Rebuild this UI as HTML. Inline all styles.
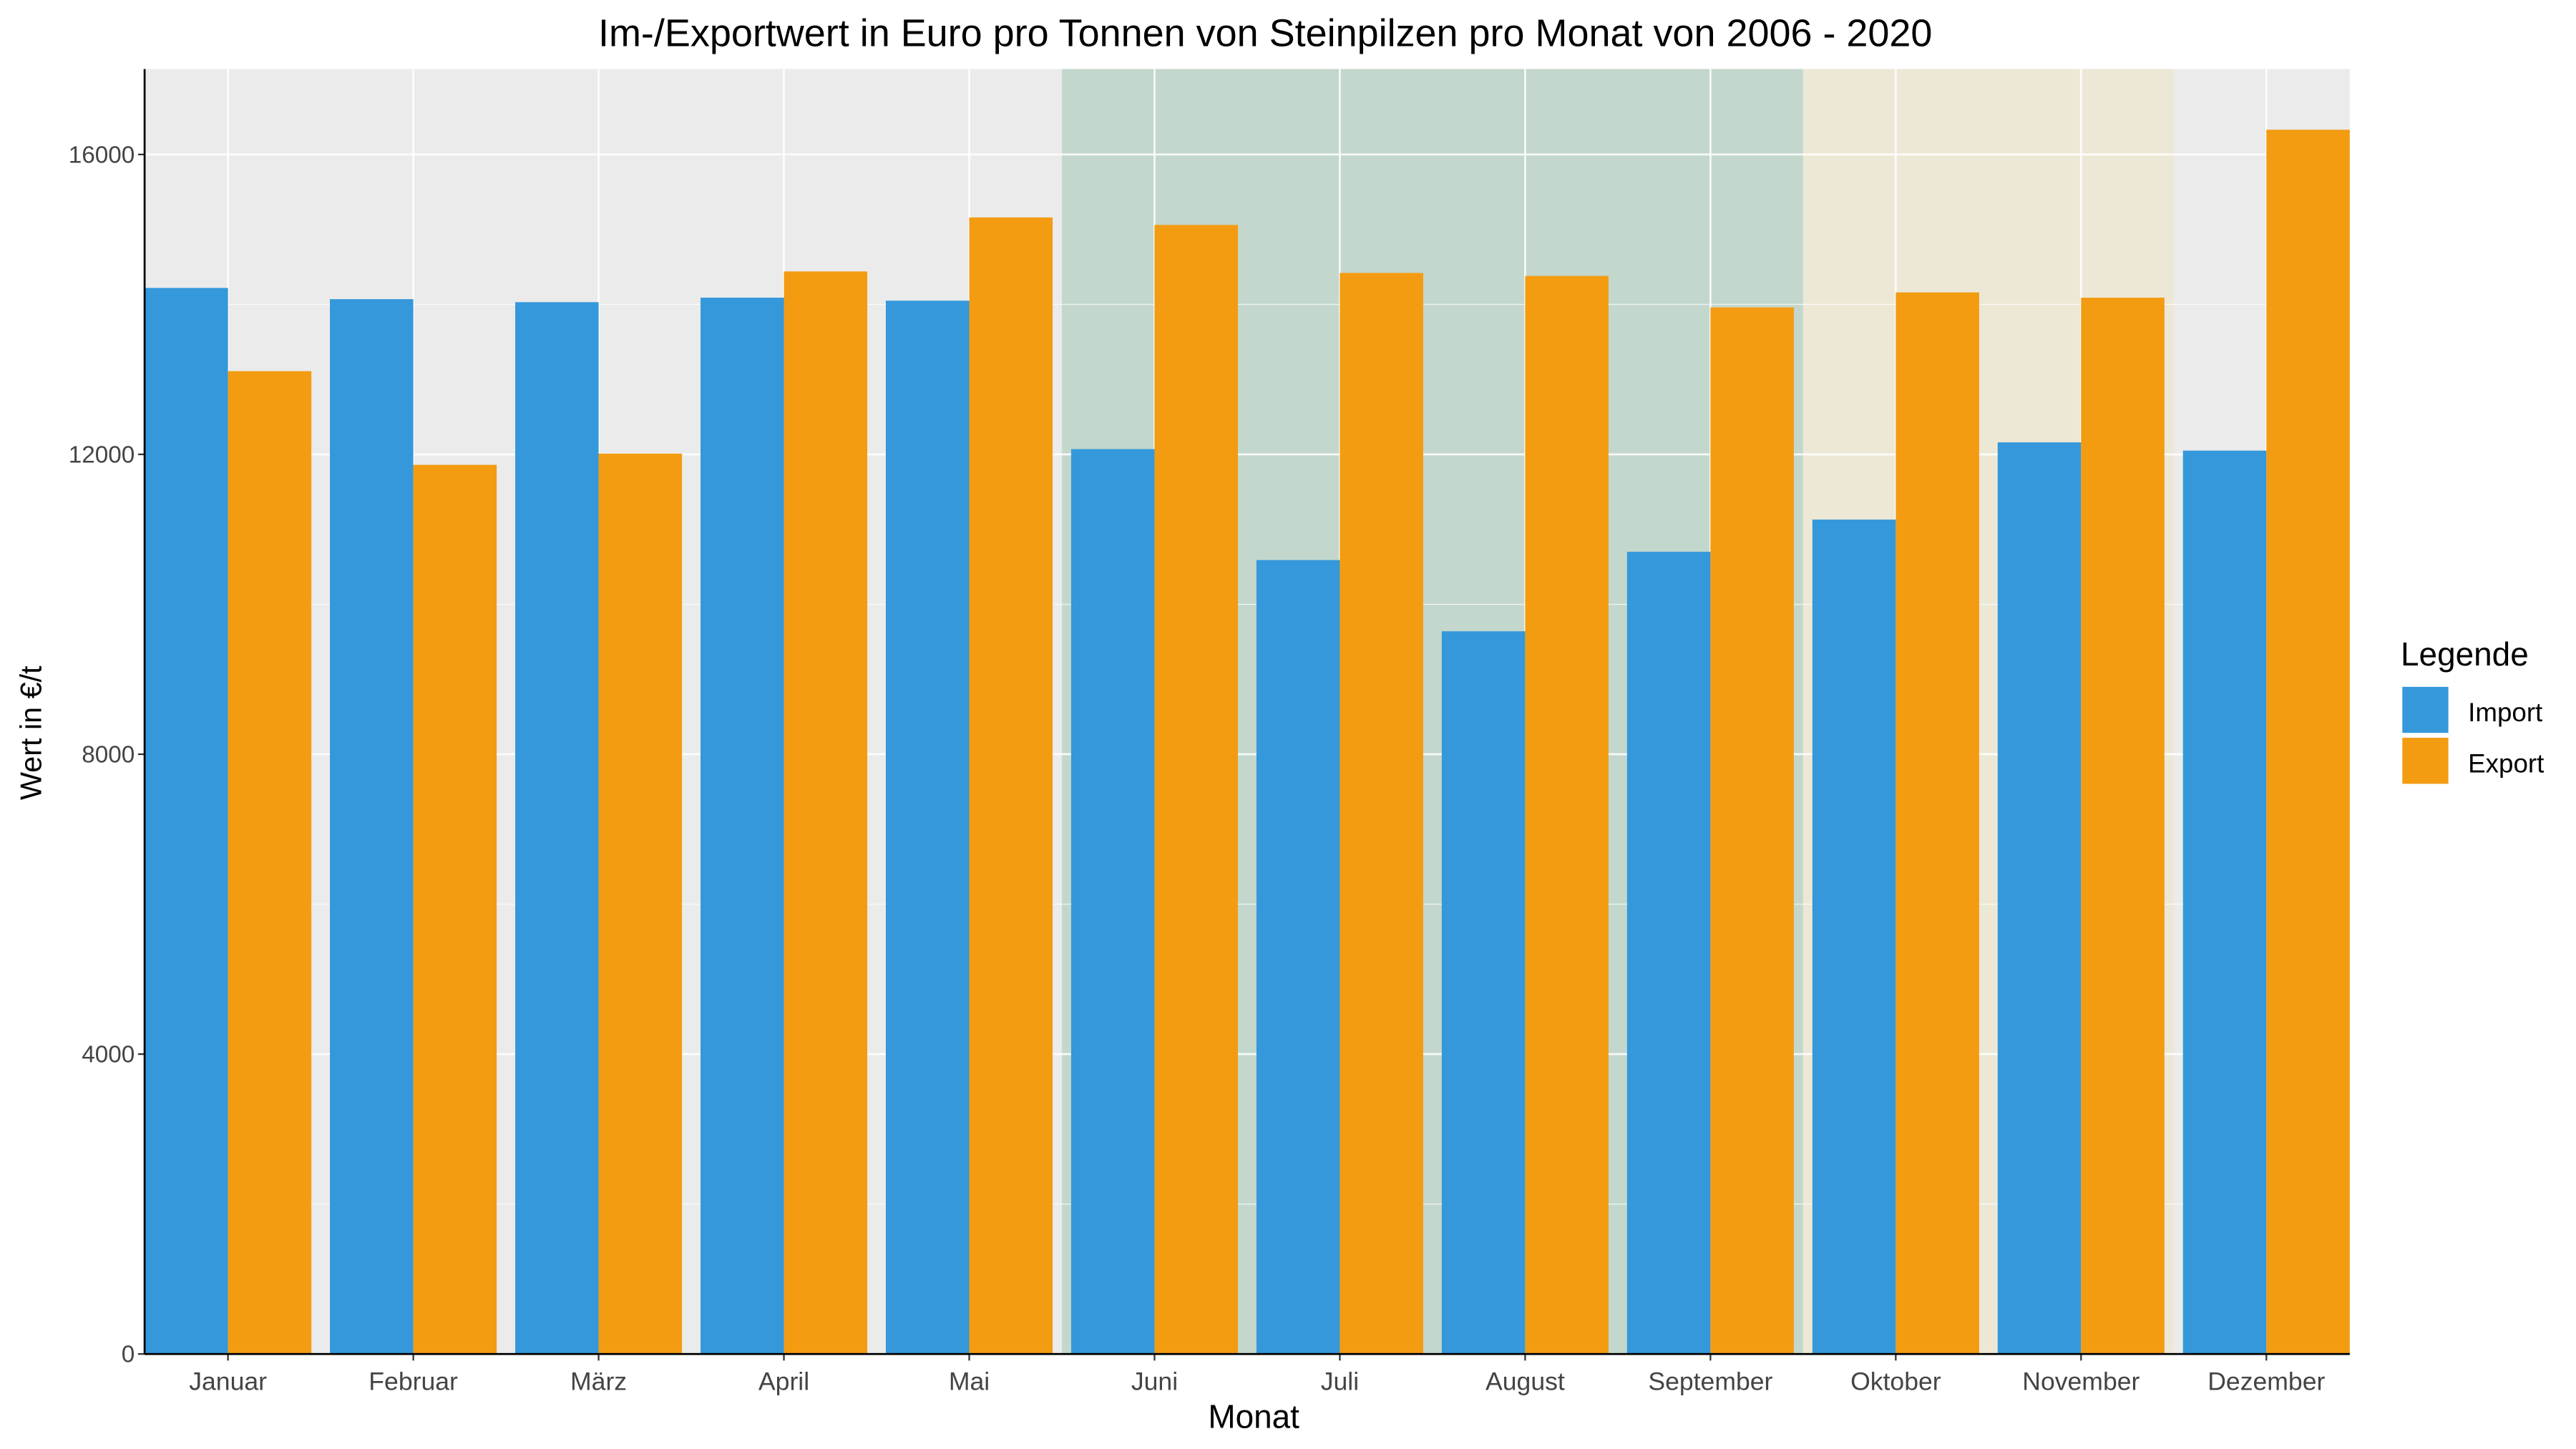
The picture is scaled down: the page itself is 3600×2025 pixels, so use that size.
<!DOCTYPE html>
<html><head><meta charset="utf-8"><style>
html,body{margin:0;padding:0;background:#fff;}
svg{display:block;font-family:"Liberation Sans",Arial,sans-serif;}
</style></head><body>
<svg id="chart" width="3600" height="2025" viewBox="0 0 1560 877.5" xmlns="http://www.w3.org/2000/svg">
<g transform="scale(0.9951)">
<text x="770" y="28" font-size="23.5" text-anchor="middle" fill="#000">Im-/Exportwert in Euro pro Tonnen von Steinpilzen pro Monat von 2006 - 2020</text>
<g id="plot"></g>
<text x="763" y="869" font-size="20" text-anchor="middle" fill="#000">Monat</text>
<text transform="translate(25,446) rotate(-90)" font-size="18" text-anchor="middle" fill="#000">Wert in €/t</text>
<g>
<text x="1461" y="405" font-size="20" fill="#000">Legende</text>
<rect x="1462" y="418" width="28" height="28" fill="#3498db"/>
<text x="1502" y="439" font-size="16" fill="#000">Import</text>
<rect x="1462" y="449" width="28" height="28" fill="#f39c12"/>
<text x="1502" y="470" font-size="16" fill="#000">Export</text>
</g>
</g>
</svg>
<script>
const categories=["Januar","Februar","März","April","Mai","Juni","Juli","August","September","Oktober","November","Dezember"];
const importValues=[14220,14070,14030,14090,14050,12070,10590,9640,10700,11130,12160,12050];
const exportValues=[13110,11860,12010,14440,15160,15060,14420,14380,13960,14160,14090,16330];
const yTicks=[0,4000,8000,12000,16000];
const yMinor=[2000,6000,10000,14000];
const shadeGreen=["Juni","September"];
const shadeBeige=["Oktober","November"];

const NS="http://www.w3.org/2000/svg";
const L=88,R=1430,T=42,B=824,yMax=17140;
const step=(R-L)/(categories.length-1+0.9);
function xc(i){return L+0.45*step+i*step;}
function y(v){return B-(v/yMax)*(B-T);}
const g=document.getElementById('plot');
function mk(tag,attrs,parent){const e=document.createElementNS(NS,tag);for(const k in attrs)e.setAttribute(k,attrs[k]);(parent||g).appendChild(e);return e;}

let e=mk('rect',{x:L,y:T,width:R-L,height:B-T,fill:'#ebebeb'});


function shade(range,color,name){
  const a=categories.indexOf(range[0]),b=categories.indexOf(range[1]);
  const r=mk('rect',{x:xc(a)-step/2,y:T,width:(b-a+1)*step,height:B-T,fill:color});
  
  
}
shade(shadeGreen,'#c3d7cd','summer-highlight');
shade(shadeBeige,'#ede8d6','autumn-highlight');
yMinor.forEach(v=>{const l=mk('line',{x1:L,x2:R,y1:y(v),y2:y(v),stroke:'#fff','stroke-width':0.6,'stroke-opacity':0.7});

});
yTicks.forEach(v=>{const l=mk('line',{x1:L,x2:R,y1:y(v),y2:y(v),stroke:'#fff','stroke-width':1.2,'stroke-opacity':0.85});


const t=mk('text',{x:L-6,y:y(v)+5,'font-size':14.5,'text-anchor':'end',fill:'#444'});t.textContent=v;


mk('line',{x1:L-4,x2:L,y1:y(v),y2:y(v),stroke:'#333','stroke-width':1});});
categories.forEach((c,i)=>{const l=mk('line',{x1:xc(i),x2:xc(i),y1:T,y2:B,stroke:'#fff','stroke-width':1.2,'stroke-opacity':0.85});

});
const bw=step*0.45;
categories.forEach((c,i)=>{
  const bi=mk('rect',{x:xc(i)-bw,y:y(importValues[i]),width:bw,height:B-y(importValues[i]),fill:'#3498db'});
  
  
  const be=mk('rect',{x:xc(i),y:y(exportValues[i]),width:bw,height:B-y(exportValues[i]),fill:'#f39c12'});
  
  
  mk('line',{x1:xc(i),x2:xc(i),y1:B,y2:B+4,stroke:'#333','stroke-width':1});
  const t=mk('text',{x:xc(i),y:B+22,'font-size':15.5,'text-anchor':'middle',fill:'#444'});t.textContent=c;
  
  
});
e=mk('line',{x1:L,x2:L,y1:T,y2:B,stroke:'#000','stroke-width':1.2});


e=mk('line',{x1:L,x2:R,y1:B,y2:B,stroke:'#000','stroke-width':1.2});


</script>
</body></html>
